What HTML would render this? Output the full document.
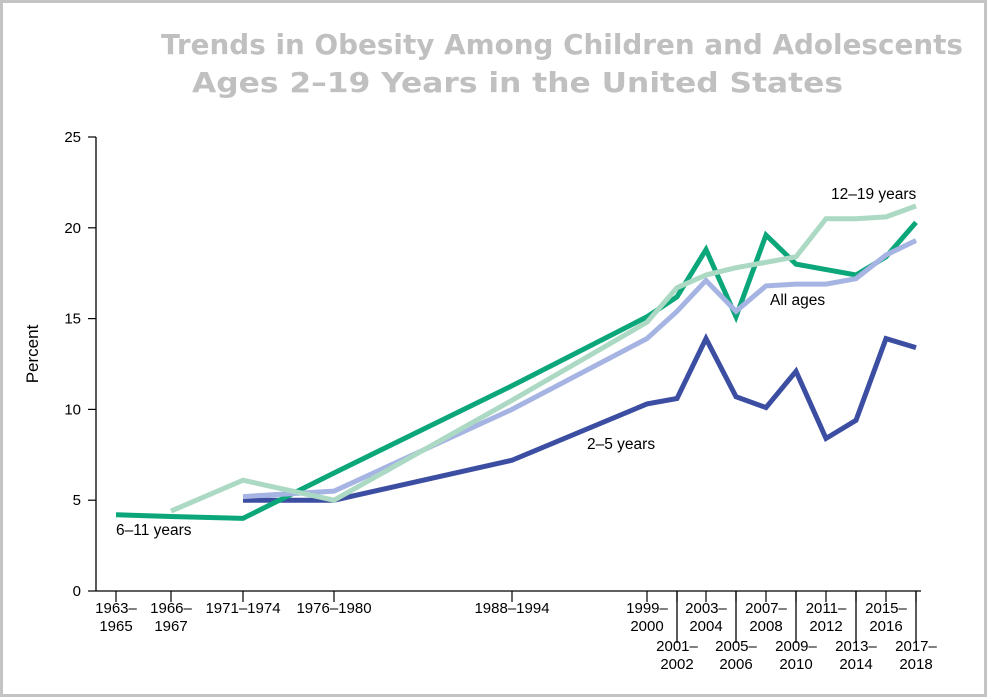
<!DOCTYPE html>
<html><head><meta charset="utf-8"><style>
body{margin:0;background:#fff;}
#frame{position:absolute;left:0;top:0;width:981px;height:691px;border:3px solid #c4c4c4;background:#fff;}
svg text{font-family:"Liberation Sans",Arial,sans-serif;}
</style></head><body>
<div id="frame"></div>
<svg id="chart" width="987" height="697" style="position:absolute;left:0;top:0">
<text x="161" y="54" textLength="802" lengthAdjust="spacingAndGlyphs" font-size="28" font-weight="bold" fill="#c0c0c0" style="font-family:'DejaVu Sans',sans-serif">Trends in Obesity Among Children and Adolescents</text>
<text x="192" y="92" textLength="651" lengthAdjust="spacingAndGlyphs" font-size="28" font-weight="bold" fill="#c0c0c0" style="font-family:'DejaVu Sans',sans-serif">Ages 2–19 Years in the United States</text>
<g id="axes"></g><g id="series"></g>
</svg>
<script>
const categories=["1963–1965","1966–1967","1971–1974","1976–1980","1988–1994","1999–2000","2001–2002","2003–2004","2005–2006","2007–2008","2009–2010","2011–2012","2013–2014","2015–2016","2017–2018"];
const yTicks=[0,5,10,15,20,25];
const s6_11=[4.2,4.1,4.0,6.5,11.3,15.1,16.2,18.8,15.1,19.6,18.0,17.7,17.4,18.4,20.3];
const s12_19=[null,4.4,6.1,5.0,10.5,14.8,16.7,17.4,17.8,18.1,18.4,20.5,20.5,20.6,21.2];
const sAll=[null,null,5.2,5.5,10.0,13.9,15.4,17.1,15.4,16.8,16.9,16.9,17.2,18.5,19.3];
const s2_5=[null,null,5.0,5.0,7.2,10.3,10.6,13.9,10.7,10.1,12.1,8.4,9.4,13.9,13.4];
// layout: pixel positions of category ticks (survey period spacing)
const xLayout=[116,171,243,334,512,647,677,706,736,766,796,826,856,886,916];
const NS="http://www.w3.org/2000/svg";
const x=i=>xLayout[i];
const y=v=>591-v*(454/25);
function mk(tag,attrs,parent,txt){const e=document.createElementNS(NS,tag);for(const k in attrs)e.setAttribute(k,attrs[k]);if(txt!=null)e.textContent=txt;parent.appendChild(e);return e;}
const ax=document.getElementById('axes'),sr=document.getElementById('series');
let e=mk('line',{x1:96,y1:y(25),x2:96,y2:591,stroke:'#000','stroke-width':1.3},ax);

e=mk('line',{x1:96,y1:591,x2:921,y2:591,stroke:'#000','stroke-width':1.3},ax);

yTicks.forEach(t=>{
 let l=mk('line',{x1:88,y1:y(t),x2:96,y2:y(t),stroke:'#000','stroke-width':1.2},ax);
 
 let tx=mk('text',{x:81,y:y(t)+5,'text-anchor':'end','font-size':15},ax,String(t));
 
});
e=mk('text',{x:38,y:354,'text-anchor':'middle','font-size':17,transform:'rotate(-90 38 354)'},ax,'Percent');

categories.forEach((c,i)=>{
 let l=mk('line',{x1:x(i),y1:591,x2:x(i),y2:602,stroke:'#000','stroke-width':1.2},ax);
 
 const p=c.split('–');
 let lower=(i>=6&&i%2===0);
 let g=mk('g',{},ax);
 
 if(lower){
  mk('line',{x1:x(i),y1:591,x2:x(i),y2:643,stroke:'#000','stroke-width':1.3},ax);
 }
 if(i===2||i===3||i===4){mk('text',{x:x(i),y:613,'text-anchor':'middle','font-size':15},g,c);}
 else{
  const y0=lower?651:613;
  mk('text',{x:x(i),y:y0,'text-anchor':'middle','font-size':15},g,p[0]+'–');
  mk('text',{x:x(i),y:y0+18,'text-anchor':'middle','font-size':15},g,p[1]);
 }
});
function line(data,color,name){
 const pts=[];data.forEach((v,i)=>{if(v!=null)pts.push(x(i)+','+y(v));});
 const pl=mk('polyline',{points:pts.join(' '),fill:'none',stroke:color,'stroke-width':5,'stroke-linejoin':'miter'},sr);
 
}
line(s2_5,'#3b4ea2','series-2-5-years');
line(s6_11,'#0ba77a','series-6-11-years');
line(sAll,'#a5b4e2','series-all-ages');
line(s12_19,'#acd9c3','series-12-19-years');
[['6–11 years',116,535,'label-6-11-years'],['12–19 years',831,199,'label-12-19-years'],['All ages',770,305,'label-all-ages'],['2–5 years',587,449,'label-2-5-years']].forEach(a=>{
 let t=mk('text',{x:a[1],y:a[2],'font-size':15.5},sr,a[0]);
 
});
</script>
</body></html>
